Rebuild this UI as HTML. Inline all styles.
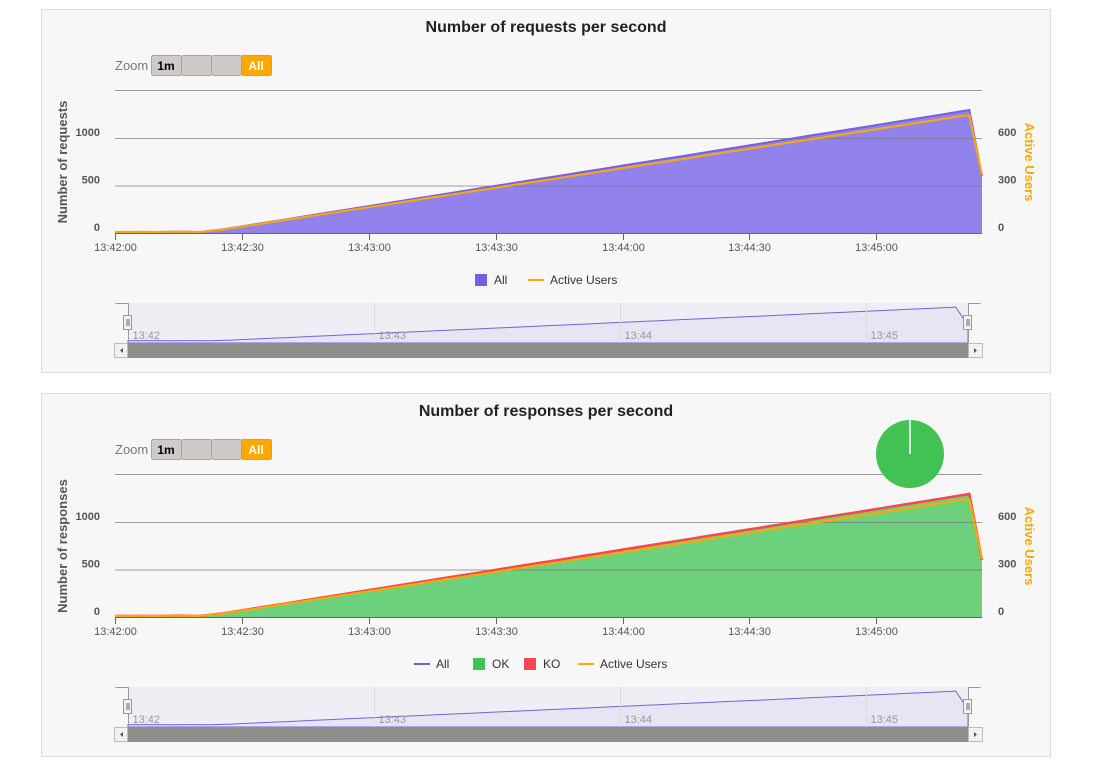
<!DOCTYPE html>
<html><head><meta charset="utf-8">
<style>
body{margin:0;background:#fff;font-family:"Liberation Sans",Arial,sans-serif;}
svg{display:block}
</style></head>
<body>
<svg id="s" width="1099" height="764" xmlns="http://www.w3.org/2000/svg"></svg>
<script>
// ---- data (seconds since 13:42:00) ----
const times = [0,5,10,15,20,25,30,35,40,45,50,55,60,65,70,75,80,85,90,95,100,105,110,115,120,125,130,135,140,145,150,155,160,165,170,175,180,185,190,195,200,202,205];
const requests = [10,12,10,14,10,35,70,105,140,176,212,248,283,318,354,390,425,460,496,532,567,602,638,673,710,745,780,815,852,887,922,958,994,1030,1065,1100,1136,1172,1208,1243,1280,1295,600];
const users = [6,7,6,8,6,20,40,60,81,102,122,143,163,183,204,225,245,265,286,307,327,347,368,388,410,430,450,470,492,512,532,553,574,594,614,635,655,676,697,717,738,745,366];
const responsesOK = [10,12,10,14,10,34,69,104,139,175,211,246,281,316,352,388,423,458,494,529,564,599,635,670,706,741,776,811,847,882,917,953,989,1024,1059,1094,1130,1166,1201,1236,1272,1287,596];
const responsesKO = [0,0,0,0,0,1,1,1,1,1,1,2,2,2,2,2,2,2,2,3,3,3,3,3,4,4,4,4,5,5,5,5,5,6,6,6,6,6,7,7,8,8,4];
const leftTicks = [0,500,1000];
const rightTicks = [0,300,600];
const xTicks = ["13:42:00","13:42:30","13:43:00","13:43:30","13:44:00","13:44:30","13:45:00"];
const xTickSec = [0,30,60,90,120,150,180];
const navLabels = ["13:42","13:43","13:44","13:45"];
const navSec = [0,60,120,180];

const NS="http://www.w3.org/2000/svg";
const svg=document.getElementById('s');
function mk(tag,attrs,parent){const e=document.createElementNS(NS,tag);for(const k in attrs)e.setAttribute(k,attrs[k]);(parent||svg).appendChild(e);return e;}
const X0=115,X1=982,SPAN=205;
function xs(t){return X0+(t/SPAN)*(X1-X0);}
function navx(t){return 128+(t/SPAN)*(968-128);}

function drawChart(oy,kind){
  const g=mk('g',{});
  
  
  const ys=v=>oy+233-v*(47.5/500);
  const ysR=v=>oy+233-v*(47.5/300);
  const panel=mk('rect',{x:41.5,y:oy+9.5,width:1009,height:363,fill:'#f7f7f7',stroke:'#dcdcdc'},g);
  
  
  const title=mk('text',{x:546,y:oy+32,'text-anchor':'middle','font-size':16,'font-weight':'bold',fill:'#222'},g);
  title.textContent = kind==='req'?'Number of requests per second':'Number of responses per second';
  
  
  const zl=mk('text',{x:115,y:oy+70,'font-size':13,fill:'#777'},g); zl.textContent='Zoom';
  
  
  const btns=[['1m','#cfc9c7','#000'],['','#cfc9c7','#000'],['','#cfc9c7','#000'],['All','#ffa900','#fff']];
  btns.forEach((b,i)=>{
    const r=mk('rect',{x:151.5+i*30,y:oy+55.5,width:30,height:20,rx:2,fill:b[1],stroke:b[0]==='All'?'#e6a000':'#a8a3a1'},g);
    
    
    if(b[0]){const t=mk('text',{x:166+i*30,y:oy+70,'text-anchor':'middle','font-size':12,'font-weight':'bold',fill:b[2]},g);t.textContent=b[0];}
  });
  mk('line',{x1:X0,x2:X1,y1:oy+90.5,y2:oy+90.5,stroke:'#999'},g);
  const top = kind==='req'?requests:responsesOK.map((v,i)=>v+responsesKO[i]);
  let d='M'+xs(times[0])+','+ys(0);
  times.forEach((t,i)=>{d+=' L'+xs(t)+','+ys(kind==='req'?requests[i]:responsesOK[i]);});
  d+=' L'+xs(times[times.length-1])+','+ys(0)+'Z';
  const area=mk('path',{d:d,fill:kind==='req'?'#9283ec':'#6dd07c'},g);
  
  
  leftTicks.forEach(v=>{if(v>0)mk('line',{x1:X0,x2:X1,y1:ys(v)+.5,y2:ys(v)+.5,stroke:'#777','stroke-opacity':0.7},g);});
  if(kind==='resp'){
    const ko=mk('polyline',{points:times.map((t,i)=>xs(t)+','+ys(top[i])).join(' '),fill:'none',stroke:'#f64650','stroke-width':2.5},g);
    
    
  }
  const all=mk('polyline',{points:times.map((t,i)=>xs(t)+','+ys(top[i])).join(' '),fill:'none',stroke:kind==='req'?'#7560e0':'#f64650','stroke-width':kind==='req'?2:1.5},g);
  
  
  const ul=mk('polyline',{points:times.map((t,i)=>xs(t)+','+ysR(users[i])).join(' '),fill:'none',stroke:'#ffa900','stroke-width':2},g);
  
  
  mk('line',{x1:X0,x2:X1,y1:oy+233.5,y2:oy+233.5,stroke:'#666'},g);
  xTicks.forEach((lab,i)=>{
    const x=Math.round(xs(xTickSec[i]))+.5;
    mk('line',{x1:x,x2:x,y1:oy+233,y2:oy+240,stroke:'#666'},g);
    const t=mk('text',{x:x,y:oy+251,'text-anchor':'middle','font-size':11,fill:'#555'},g);t.textContent=lab;
    
    
  });
  leftTicks.forEach(v=>{const t=mk('text',{x:100,y:ys(v)-2,'text-anchor':'end','font-size':11,'font-weight':'bold',fill:'#555'},g);t.textContent=v;
    
    });
  rightTicks.forEach(v=>{const t=mk('text',{x:998,y:ysR(v)-2,'font-size':11,'font-weight':'bold',fill:'#555'},g);t.textContent=v;
    
    });
  const yt=mk('text',{x:0,y:0,transform:'translate(67,'+(oy+162)+') rotate(-90)','text-anchor':'middle','font-size':13,'font-weight':'bold',fill:'#555'},g);
  yt.textContent=kind==='req'?'Number of requests':'Number of responses';
  
  
  const yt2=mk('text',{x:0,y:0,transform:'translate(1025,'+(oy+162)+') rotate(90)','text-anchor':'middle','font-size':13,'font-weight':'bold',fill:'#ffa900'},g);
  yt2.textContent='Active Users';
  
  
  const ly=oy+280;
  let items = kind==='req'?[['sq','#7560e0','All',475],['ln','#ffa900','Active Users',528]]
     :[['ln','#7560e0','All',414],['sq','#41c253','OK',473],['sq','#f64650','KO',524],['ln','#ffa900','Active Users',578]];
  items.forEach(it=>{
    const lg=mk('g',{},g);
    
    
    if(it[0]==='sq')mk('rect',{x:it[3],y:ly-6,width:12,height:12,fill:it[1]},lg);
    else mk('line',{x1:it[3],x2:it[3]+16,y1:ly,y2:ly,stroke:it[1],'stroke-width':2},lg);
    const t=mk('text',{x:it[3]+(it[0]==='sq'?19:22),y:ly+4,'font-size':12,fill:'#333'},lg);t.textContent=it[2];
  });
  const nav=mk('g',{},g);
  
  
  mk('rect',{x:128,y:oy+303,width:840,height:40,fill:'#efeef5'},nav);
  const nys=v=>oy+341-v*(34/1300);
  let nd='M'+navx(0)+','+(oy+343);
  times.forEach((t,i)=>{nd+=' L'+navx(t)+','+nys(requests[i]);});
  nd+=' L'+navx(SPAN)+','+(oy+343)+'Z';
  mk('path',{d:nd,fill:'#e7e5f4',stroke:'#7560e0','stroke-width':1},nav);
  navSec.forEach((s,i)=>{const x=Math.round(navx(s))+.5; if(i>0)mk('line',{x1:x,x2:x,y1:oy+303,y2:oy+343,stroke:'#dcdcdc'},nav);
    const t=mk('text',{x:x+4,y:oy+339,'font-size':11,fill:'#999'},nav);t.textContent=navLabels[i];});
  mk('path',{d:'M115.5,'+(oy+303.5)+' H128.5 V'+(oy+343)+' M980.5,'+(oy+303.5)+' H968.5 V'+(oy+343),fill:'none',stroke:'#999'},nav);
  [128,968].forEach(x=>{mk('rect',{x:x-4.5,y:oy+315.5,width:8,height:14,fill:'#f2f2f2',stroke:'#999'},nav);
    mk('line',{x1:x-1,x2:x-1,y1:oy+319,y2:oy+326,stroke:'#666'},nav);mk('line',{x1:x+1,x2:x+1,y1:oy+319,y2:oy+326,stroke:'#666'},nav);});
  const sb=mk('g',{},g);
  
  
  mk('rect',{x:115,y:oy+343,width:868,height:15,fill:'#eee'},sb);
  mk('rect',{x:128,y:oy+343,width:840,height:15,fill:'#8f8f8a'},sb);
  mk('rect',{x:114.5,y:oy+343.5,width:13,height:14,fill:'#f2f2f2',stroke:'#bbb'},sb);
  mk('rect',{x:968.5,y:oy+343.5,width:14,height:14,fill:'#f2f2f2',stroke:'#bbb'},sb);
  mk('path',{d:'M123,'+(oy+348)+' L120,'+(oy+350.5)+' L123,'+(oy+353)+'Z',fill:'#555'},sb);
  mk('path',{d:'M974,'+(oy+348)+' L977,'+(oy+350.5)+' L974,'+(oy+353)+'Z',fill:'#555'},sb);
  if(kind==='resp'){
    const pie=mk('g',{},g);
    
    
    mk('circle',{cx:910,cy:oy+70,r:34,fill:'#41c253'},pie);
    mk('line',{x1:910,x2:910,y1:oy+36,y2:oy+70,stroke:'#fff','stroke-width':1.5},pie);
  }
}
drawChart(0,'req');
drawChart(384,'resp');
</script>
</body></html>
